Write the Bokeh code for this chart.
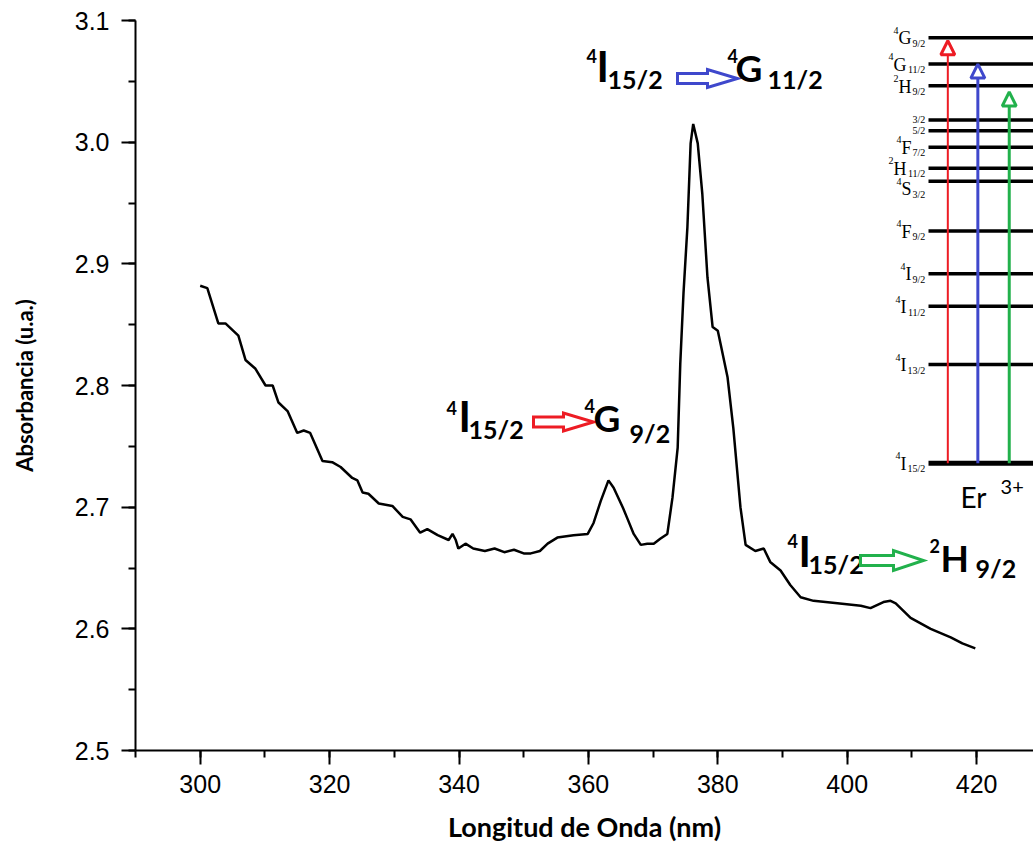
from bokeh.plotting import figure
from bokeh.models import Range1d, SingleIntervalTicker, PrintfTickFormatter, Arrow, NormalHead
from bokeh.core.properties import value
from bokeh.embed import file_html
from bokeh.resources import INLINE

# ---------------- data ----------------
wavelength = [300.0, 301.1, 302.8, 303.9, 305.9, 307.0, 308.5, 310.1, 311.2, 312.1,
              313.5, 315.0, 316.0, 317.0, 318.9, 320.4, 321.7, 323.5, 324.3, 325.1,
              326.0, 327.6, 329.7, 331.3, 332.5, 334.0, 335.1, 336.7, 338.4, 339.0,
              339.5, 339.9, 341.0, 342.2, 344.0, 345.5, 347.0, 348.5, 350.0, 351.1,
              352.5, 353.7, 355.2, 357.7, 359.9, 360.8, 361.9, 363.1, 363.9, 365.3,
              366.0, 367.0, 368.1, 369.1, 370.1, 371.1, 372.2, 373.0, 373.8, 374.2,
              374.7, 375.3, 375.8, 376.2, 376.9, 377.6, 378.4, 379.2, 380.0, 380.4,
              381.5, 382.4, 383.5, 384.3, 385.8, 387.1, 388.1, 389.7, 391.2, 392.8,
              394.8, 398.5, 402.1, 403.6, 405.6, 406.7, 407.5, 409.8, 412.9, 416.0,
              417.8, 419.8]
absorbance = [2.882, 2.880, 2.851, 2.851, 2.841, 2.821, 2.814, 2.800, 2.800, 2.786,
              2.779, 2.761, 2.763, 2.761, 2.738, 2.737, 2.733, 2.724, 2.722, 2.712,
              2.711, 2.703, 2.701, 2.692, 2.690, 2.679, 2.682, 2.677, 2.673, 2.678,
              2.673, 2.666, 2.670, 2.666, 2.664, 2.666, 2.663, 2.665, 2.662, 2.662,
              2.664, 2.670, 2.675, 2.677, 2.678, 2.687, 2.705, 2.722, 2.716, 2.700,
              2.691, 2.678, 2.669, 2.670, 2.670, 2.674, 2.678, 2.708, 2.749, 2.818,
              2.876, 2.930, 2.999, 3.015, 2.999, 2.958, 2.889, 2.848, 2.845, 2.835,
              2.807, 2.765, 2.700, 2.669, 2.664, 2.666, 2.655, 2.648, 2.636, 2.626,
              2.623, 2.621, 2.619, 2.617, 2.622, 2.623, 2.621, 2.609, 2.600, 2.593,
              2.588, 2.584]

x_ticks_interval = 20
y_ticks_interval = 0.1
x_label = "Longitud de Onda (nm)"
y_label = "Absorbancia (u.a.)"

# Er3+ energy levels (cm^-1): superscript, letter, subscript, energy
level_sup = ["4", "4", "4", "4", "4", "4", "2", "4", "", "", "2", "4", "4"]
level_let = ["I", "I", "I", "I", "F", "S", "H", "F", "", "", "H", "G", "G"]
level_sub = ["15/2", "13/2", "11/2", "9/2", "9/2", "3/2", "11/2", "7/2", "5/2", "3/2", "9/2", "11/2", "9/2"]
level_E = [0, 6350, 10100, 12200, 14950, 18150, 19000, 20350, 21400, 22100, 24300, 25700, 27400]

arrow_colors = ["#ed1c24", "#3f48cc", "#22b14c"]
arrow_tip_E = [27200, 25700, 23900]

# ---------------- layout ----------------
W, H = 1033, 849
FL, FT, FW, FH = 135, 20, 898, 730
X0, X1 = 290.0, 290.0 + FW / 6.47
Y0, Y1 = 2.5, 3.1

p = figure(width=W, height=H, output_backend="svg", toolbar_location=None,
           x_range=Range1d(X0, X1), y_range=Range1d(Y0, Y1),
           min_border_left=FL, min_border_right=0, min_border_top=FT,
           min_border_bottom=H - FT - FH)
p.outline_line_color = None
p.xgrid.visible = False
p.ygrid.visible = False
p.background_fill_color = "white"
p.border_fill_color = "white"

# inset ranges
px_per_E = 0.01553
E_ground_px = 462.7
p.extra_x_ranges = {"ix": Range1d(-(928 - FL) / 105.0, (FL + FW - 928) / 105.0)}
p.extra_y_ranges = {"E": Range1d((E_ground_px - (FT + FH)) / px_per_E, (E_ground_px - FT) / px_per_E)}

# axes
p.xaxis.ticker = SingleIntervalTicker(interval=x_ticks_interval, num_minor_ticks=2)
p.yaxis.ticker = SingleIntervalTicker(interval=y_ticks_interval, num_minor_ticks=2)
p.yaxis.formatter = PrintfTickFormatter(format="%.1f")
for ax in (p.xaxis[0], p.yaxis[0]):
    ax.axis_line_width = 2
    ax.major_tick_line_width = 2
    ax.minor_tick_line_width = 2
    ax.major_tick_in = 0
    ax.minor_tick_in = 0
    ax.major_tick_out = 14
    ax.minor_tick_out = 7
    ax.major_label_text_font = "Liberation Sans"
    ax.major_label_text_font_size = "25px"
    ax.major_label_text_color = "black"
    ax.axis_label_text_font = "Lato"
    ax.axis_label_text_font_style = "bold"
    ax.axis_label_text_color = "black"
p.xaxis.axis_label = x_label
p.yaxis.axis_label = y_label
p.xaxis.axis_label_text_font_size = "27px"
p.yaxis.axis_label_text_font_size = "22px"
p.xaxis.major_label_standoff = 10
p.yaxis.major_label_standoff = 12
p.xaxis.axis_label_standoff = 14
p.yaxis.axis_label_standoff = 34

# curve
p.line(wavelength, absorbance, line_color="black", line_width=2.5)

# ---------------- helpers for annotation layout (pixel -> data) ----------------
def dx(px):
    return X0 + (px - FL) * (X1 - X0) / FW

def dy(py):
    return Y1 - (py - FT) * (Y1 - Y0) / FH

def txt(px, py, s, size, style="bold", font="Lato", color="black"):
    p.text([dx(px)], [dy(py)], text=[s], text_font=value(font), text_font_style=style,
           text_font_size=f"{size}px", text_color=color, text_align="left",
           text_baseline="alphabetic", y_offset=-0.42 * size)

def block_arrow(x0, xh, x1, yc, hs, hh, color):
    pts = [(x0, yc - hs), (xh, yc - hs), (xh, yc - hh), (x1, yc), (xh, yc + hh), (xh, yc + hs), (x0, yc + hs)]
    p.patch([dx(a) for a, b in pts], [dy(b) for a, b in pts], fill_color="white",
            line_color=color, line_width=3, line_join="miter")

# top annotation: 4I15/2 -> 4G11/2
txt(586, 63, "4", 18)
txt(596, 83, "I", 42)
txt(607, 89, "15/2", 25)
block_arrow(677, 707, 737, 78, 5, 9, arrow_colors[1])
txt(727, 63, "4", 18)
txt(735, 83, "G", 37)
txt(767, 89, "11/2", 25)

# middle annotation: 4I15/2 -> 4G9/2
txt(446, 415, "4", 18)
txt(458, 433, "I", 42)
txt(468, 439, "15/2", 25)
block_arrow(533, 563, 593, 421.5, 5, 9, arrow_colors[0])
txt(584, 413, "4", 18)
txt(593, 433, "G", 37)
txt(629, 443, "9/2", 25)

# bottom annotation: 4I15/2 -> 2H9/2
txt(787, 548, "4", 18)
txt(798, 568, "I", 42)
txt(808, 574, "15/2", 25)
block_arrow(860, 893, 923, 560, 5, 10, arrow_colors[2])
txt(929, 553, "2", 18)
txt(940, 573, "H", 37)
txt(975, 578, "9/2", 25)

# ---------------- inset: Er3+ energy level diagram ----------------
for e in level_E:
    p.segment(x0=[0.0], y0=[e], x1=[1.0], y1=[e], line_color="black",
              line_width=5 if e == 0 else 3.5, x_range_name="ix", y_range_name="E")

w_letter = {"G": 0.722, "H": 0.722, "F": 0.556, "S": 0.556, "I": 0.333, "": 0.0}
def sub_w(s, size):
    return sum((0.278 if c == "/" else 0.5) * size for c in s)

LS, SS = 18, 10
for sup, let, sub, e in zip(level_sup, level_let, level_sub, level_E):
    base_dy = 14 if let == "S" else 7
    base_dy -= 0.35 * LS
    xr = -0.03
    sw = sub_w(sub, SS)
    lw = w_letter[let] * LS
    sub_dy = base_dy + 5 if let else 3 - 0.35 * SS
    p.text([xr], [e], text=[sub], text_font=value("Liberation Serif"), text_font_size=f"{SS}px",
           text_align="right", text_baseline="alphabetic", y_offset=sub_dy,
           x_range_name="ix", y_range_name="E")
    if let:
        p.text([xr], [e], text=[let], text_font=value("Liberation Serif"), text_font_size=f"{LS}px",
               text_align="right", text_baseline="alphabetic", x_offset=-sw - 1, y_offset=base_dy,
               x_range_name="ix", y_range_name="E")
        p.text([xr], [e], text=[sup], text_font=value("Liberation Serif"), text_font_size=f"{SS}px",
               text_align="right", text_baseline="alphabetic", x_offset=-sw - lw - 1, y_offset=base_dy - 8,
               x_range_name="ix", y_range_name="E")

arrow_x = [0.184, 0.470, 0.769]
arrow_w = [2, 3, 3]
for xa, col, tip, lw in zip(arrow_x, arrow_colors, arrow_tip_E, arrow_w):
    p.add_layout(Arrow(x_start=xa, y_start=0, x_end=xa, y_end=tip, line_color=col, line_width=lw,
                       end=NormalHead(size=14, fill_color="white", line_color=col, line_width=3),
                       x_range_name="ix", y_range_name="E"))

p.text([0.305], [-3050], text=["Er"], text_font=value("Lato"), text_font_size="28px",
       text_align="left", text_baseline="alphabetic", y_offset=-14,
       x_range_name="ix", y_range_name="E")
p.text([0.686], [-2080], text=["3+"], text_font=value("Lato"), text_font_size="20px",
       text_align="left", text_baseline="alphabetic", y_offset=-9,
       x_range_name="ix", y_range_name="E")

open("out.html", "w").write(file_html(p, INLINE))
